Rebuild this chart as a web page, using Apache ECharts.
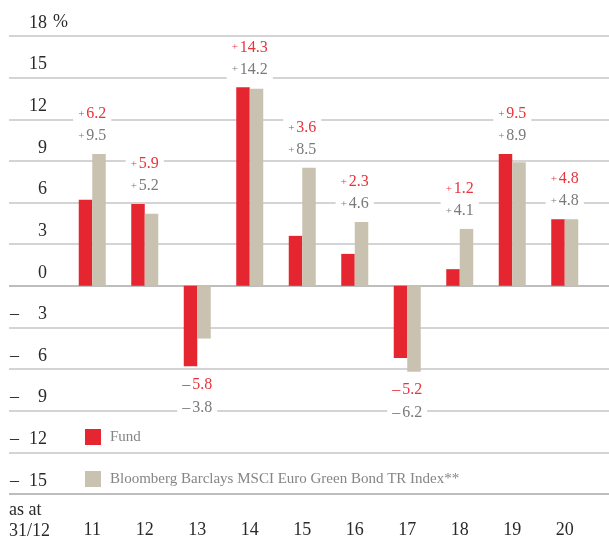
<!DOCTYPE html>
<html>
<head>
<meta charset="utf-8">
<script src="https://cdn.jsdelivr.net/npm/echarts@6/dist/echarts.min.js"></script>
<style>
  html, body { margin: 0; padding: 0; background: #fff; }
  #chart { width: 609px; height: 542px; }
</style>
</head>
<body>
<div id="chart"></div>
<script>
// Jahreswerte (in %), Stichtag jeweils 31/12
var years = ['11', '12', '13', '14', '15', '16', '17', '18', '19', '20'];
var fund = [6.2, 5.9, -5.8, 14.3, 3.6, 2.3, -5.2, 1.2, 9.5, 4.8];
var bench = [9.5, 5.2, -3.8, 14.2, 8.5, 4.6, -6.2, 4.1, 8.9, 4.8];
var seriesNames = ['Fund', 'Bloomberg Barclays MSCI Euro Green Bond TR Index**'];

var FONT = '"Liberation Serif", "DejaVu Serif", serif';
var RED = '#e52630';
var BEIGE = '#c9c2b0';
var RED_TXT = '#e8333c';
var GRAY_TXT = '#7a7a7a';

// Zeilen 0 und -15 dunkler
var lineColors = [];
for (var v = -15; v <= 18; v += 3) {
    lineColors.push(v === 0 || v === -15 ? '#a9a9a9' : '#c6c6c6');
}

function fmt(val) {
    if (val < 0) return '{m|–}{n|' + Math.abs(val).toFixed(1) + '}';
    return '{p|+}{n|' + val.toFixed(1) + '}';
}

var chart = echarts.init(document.getElementById('chart'));

var option = {
    animation: false,
    textStyle: { fontFamily: FONT },
    grid: [
        { left: 9, right: 0, top: 36, bottom: 48, outerBoundsMode: 'none' },
        { left: 66, right: 18, top: 36, bottom: 48, outerBoundsMode: 'none' }
    ],
    legend: {
        orient: 'vertical',
        left: 80,
        top: 424,
        itemWidth: 16,
        itemHeight: 16,
        itemGap: 26,
        icon: 'rect',
        textStyle: { color: '#858585', fontSize: 15, fontFamily: FONT, padding: [0, 0, 0, 4] },
        data: seriesNames
    },
    xAxis: [
        { gridIndex: 0, type: 'value', min: 0, max: 1, show: false },
        {
            gridIndex: 1,
            type: 'category',
            data: years,
            axisLine: { show: false, onZero: false },
            axisTick: { show: false },
            axisLabel: { color: '#2a2a2a', fontSize: 18, fontFamily: FONT, margin: 27 },
            name: 'as at\n31/12',
            nameLocation: 'start',
            nameGap: 57,
            nameTextStyle: {
                color: '#2a2a2a', fontSize: 18, fontFamily: FONT,
                align: 'left', verticalAlign: 'top', lineHeight: 21, padding: [6, 0, 0, 0]
            }
        }
    ],
    yAxis: [
        {
            gridIndex: 0,
            type: 'value',
            min: -15, max: 18, interval: 3,
            axisLine: { show: false },
            axisTick: { show: false },
            splitLine: { show: true, lineStyle: { color: lineColors, width: 1.5 } },
            axisLabel: {
                inside: true,
                margin: 1,
                color: '#2a2a2a', fontSize: 18, fontFamily: FONT,
                verticalAlign: 'bottom',
                padding: [0, 0, 4, 0],
                formatter: function (v) { return v < 0 ? '–' : ''; }
            }
        },
        {
            gridIndex: 1,
            type: 'value',
            min: -15, max: 18, interval: 3,
            axisLine: { show: false },
            axisTick: { show: false },
            splitLine: { show: false },
            axisLabel: {
                margin: 19,
                color: '#2a2a2a', fontSize: 18, fontFamily: FONT,
                verticalAlign: 'bottom',
                padding: [0, 0, 4, 0],
                formatter: function (v) { return String(Math.abs(v)); }
            },
            name: '%',
            nameLocation: 'end',
            nameGap: 14,
            nameTextStyle: {
                color: '#2a2a2a', fontSize: 18, fontFamily: FONT,
                align: 'right', verticalAlign: 'middle', padding: [0, -2, 0, 0]
            }
        }
    ],
    series: [
        {
            name: seriesNames[0],
            type: 'bar',
            xAxisIndex: 1, yAxisIndex: 1,
            barWidth: 13.5,
            barGap: '0%',
            itemStyle: { color: RED },
            data: fund
        },
        {
            name: seriesNames[1],
            type: 'bar',
            xAxisIndex: 1, yAxisIndex: 1,
            barWidth: 13.5,
            barGap: '0%',
            itemStyle: { color: BEIGE },
            data: bench
        },
        {
            // Wertebeschriftungen über/unter den Balkenpaaren
            type: 'custom',
            xAxisIndex: 1, yAxisIndex: 1,
            z: 10,
            silent: true,
            data: years.map(function (y, i) { return [i, fund[i], bench[i]]; }),
            renderItem: function (params, api) {
                var i = api.value(0), f = api.value(1), b = api.value(2);
                var up = Math.max(f, b) > 0;
                var edge = up ? Math.max(f, b) : Math.min(f, b);
                var pt = api.coord([i, edge]);
                var yRed = up ? pt[1] - 40 : pt[1] + 18;
                var yGray = up ? pt[1] - 18 : pt[1] + 41;
                function label(val, y, color) {
                    return {
                        type: 'text',
                        x: pt[0], y: y,
                        style: {
                            text: fmt(val),
                            rich: {
                                p: { fontSize: 11, fontFamily: FONT, fill: color, padding: [0, 2, 0, 0] },
                                m: { fontSize: 16, fontFamily: FONT, fill: color, padding: [0, 2, 0, 0] },
                                n: { fontSize: 16, fontFamily: FONT, fill: color }
                            },
                            fill: color,
                            align: 'center',
                            verticalAlign: 'middle',
                            backgroundColor: '#fff',
                            padding: [2, 5, 2, 5]
                        }
                    };
                }
                return {
                    type: 'group',
                    children: [label(f, yRed, RED_TXT), label(b, yGray, GRAY_TXT)]
                };
            }
        }
    ]
};

chart.setOption(option);
</script>
</body>
</html>
